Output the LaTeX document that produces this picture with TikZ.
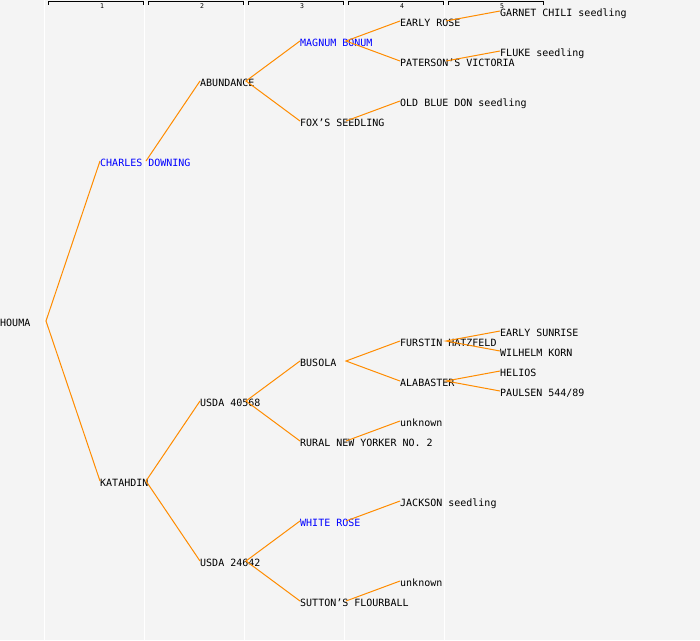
\documentclass[tikz,border=0pt]{standalone}
\usepackage{fontspec}
\setmonofont{DejaVu Sans Mono}
\usepackage{xcolor}
\definecolor{bgcol}{HTML}{F4F4F4}
\definecolor{linkcol}{HTML}{FF8C00}

\begin{document}
\begin{tikzpicture}[x=1pt, y=-1pt,
    cv/.style={anchor=west, inner sep=0pt, text height=10pt, text depth=0pt,
               font=\ttfamily\fontsize{10}{12}\selectfont},
    cvblue/.style={cv, text=blue},
    link/.style={linkcol, line width=1pt},
    gencol/.style={white, line width=1pt},
    genbar/.style={black, line width=1pt},
    genlabel/.style={inner sep=0pt, font=\ttfamily\fontsize{6.5}{7}\selectfont}]
    % canvas
    \fill[bgcol] (0,0) rectangle (700,640);
    \useasboundingbox (0,0) rectangle (700,640);

    % generation columns
    \draw[gencol] (44.5,0) -- (44.5,640);
    \draw[gencol] (144.5,0) -- (144.5,640);
    \draw[gencol] (244.5,0) -- (244.5,640);
    \draw[gencol] (344.5,0) -- (344.5,640);
    \draw[gencol] (444.5,0) -- (444.5,640);

    \draw[genbar] (48,4.5) -- (48,1.5) -- (143,1.5) -- (143,4.5);
    \draw[genbar] (148,4.5) -- (148,1.5) -- (243,1.5) -- (243,4.5);
    \draw[genbar] (248,4.5) -- (248,1.5) -- (343,1.5) -- (343,4.5);
    \draw[genbar] (348,4.5) -- (348,1.5) -- (443,1.5) -- (443,4.5);
    \draw[genbar] (448,4.5) -- (448,1.5) -- (543,1.5) -- (543,4.5);
    \node[genlabel] (g1) at (102,6.5) {1};
    \node[genlabel] (g2) at (202,6.5) {2};
    \node[genlabel] (g3) at (302,6.5) {3};
    \node[genlabel] (g4) at (402,6.5) {4};
    \node[genlabel] (g5) at (502,6.5) {5};

    % cultivars
    \node[cv] (houma) at (0,321) {HOUMA};

    \node[cvblue] (charles) at (100,161) {CHARLES DOWNING};
    \node[cv] (katahdin) at (100,481) {KATAHDIN};

    \node[cv] (abundance) at (200,81) {ABUNDANCE};
    \node[cv] (usda40568) at (200,401) {USDA 40568};
    \node[cv] (usda24642) at (200,561) {USDA 24642};

    \node[cvblue] (magnum) at (300,41) {MAGNUM BONUM};
    \node[cv] (foxs) at (300,121) {FOX’S SEEDLING};
    \node[cv] (busola) at (300,361) {BUSOLA};
    \node[cv] (rural) at (300,441) {RURAL NEW YORKER NO. 2};
    \node[cvblue] (whiterose) at (300,521) {WHITE ROSE};
    \node[cv] (sutton) at (300,601) {SUTTON’S FLOURBALL};

    \node[cv] (earlyrose) at (400,21) {EARLY ROSE};
    \node[cv] (paterson) at (400,61) {PATERSON’S VICTORIA};
    \node[cv] (oldblue) at (400,101) {OLD BLUE DON seedling};
    \node[cv] (furstin) at (400,341) {FURSTIN HATZFELD};
    \node[cv] (alabaster) at (400,381) {ALABASTER};
    \node[cv] (unknowna) at (400,421) {unknown};
    \node[cv] (jackson) at (400,501) {JACKSON seedling};
    \node[cv] (unknownb) at (400,581) {unknown};

    \node[cv] (garnet) at (500,11) {GARNET CHILI seedling};
    \node[cv] (fluke) at (500,51) {FLUKE seedling};
    \node[cv] (sunrise) at (500,331) {EARLY SUNRISE};
    \node[cv] (wilhelm) at (500,351) {WILHELM KORN};
    \node[cv] (helios) at (500,371) {HELIOS};
    \node[cv] (paulsen) at (500,391) {PAULSEN 544/89};

    % parentage links
    \draw[link] (charles.west) -- ([xshift=46pt]houma.west) -- (katahdin.west);
    \draw[link] ([xshift=46pt]charles.west) -- (abundance.west);
    \draw[link] (usda40568.west) -- ([xshift=46pt]katahdin.west) -- (usda24642.west);
    \draw[link] (magnum.west) -- ([xshift=46pt]abundance.west) -- (foxs.west);
    \draw[link] (busola.west) -- ([xshift=46pt]usda40568.west) -- (rural.west);
    \draw[link] (whiterose.west) -- ([xshift=46pt]usda24642.west) -- (sutton.west);
    \draw[link] (earlyrose.west) -- ([xshift=46pt]magnum.west) -- (paterson.west);
    \draw[link] ([xshift=46pt]foxs.west) -- (oldblue.west);
    \draw[link] (furstin.west) -- ([xshift=46pt]busola.west) -- (alabaster.west);
    \draw[link] ([xshift=46pt]rural.west) -- (unknowna.west);
    \draw[link] ([xshift=46pt]whiterose.west) -- (jackson.west);
    \draw[link] ([xshift=46pt]sutton.west) -- (unknownb.west);
    \draw[link] ([xshift=46pt]earlyrose.west) -- (garnet.west);
    \draw[link] ([xshift=46pt]paterson.west) -- (fluke.west);
    \draw[link] (sunrise.west) -- ([xshift=46pt]furstin.west) -- (wilhelm.west);
    \draw[link] (helios.west) -- ([xshift=46pt]alabaster.west) -- (paulsen.west);
\end{tikzpicture}
\end{document}
